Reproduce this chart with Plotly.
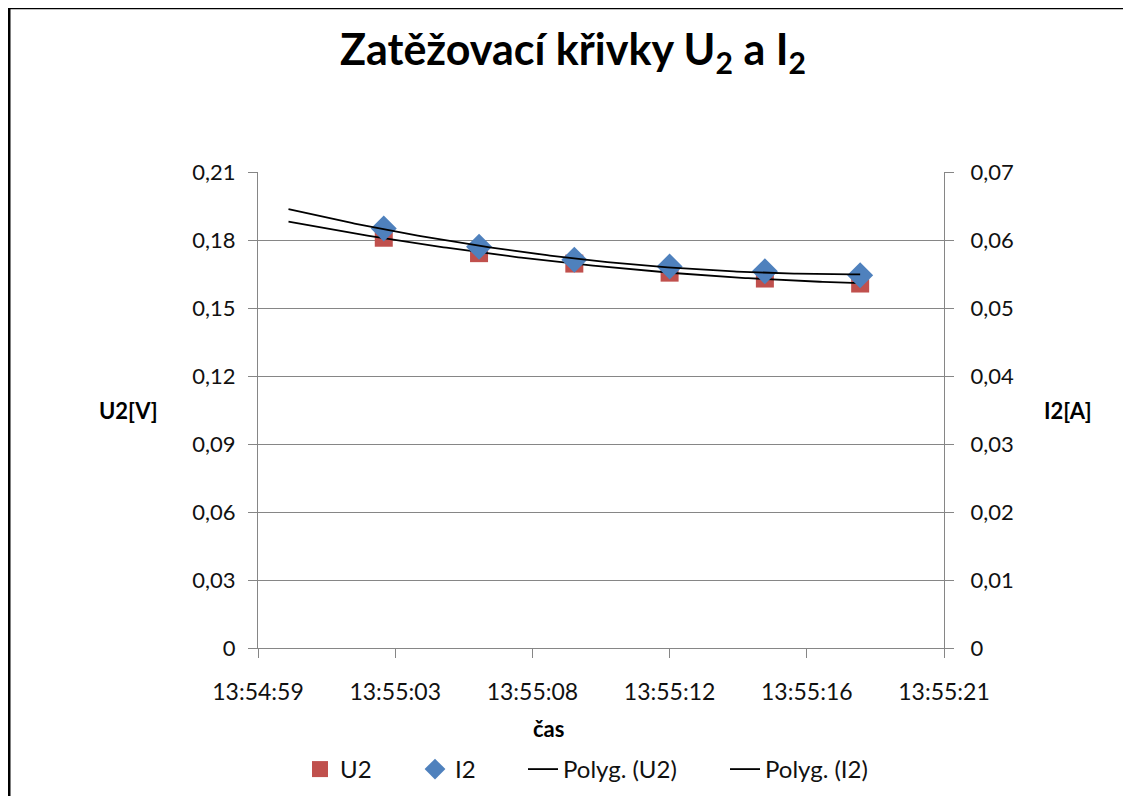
import numpy as np
import plotly.graph_objects as go

# ---- data ----
times = ["13:55:03", "13:55:06", "13:55:09", "13:55:12", "13:55:15", "13:55:18"]
u2_values = [0.1810, 0.1742, 0.1696, 0.1656, 0.1630, 0.1608]
i2_values = [0.0617, 0.0590, 0.0571, 0.0561, 0.0554, 0.0548]
trend_start = "13:55:00"   # trendline backward forecast

x_tick_labels = ["13:54:59", "13:55:03", "13:55:08", "13:55:12", "13:55:16", "13:55:21"]
u_tick_vals = [0, 0.03, 0.06, 0.09, 0.12, 0.15, 0.18, 0.21]
u_tick_labels = ["0", "0,03", "0,06", "0,09", "0,12", "0,15", "0,18", "0,21"]
i_tick_vals = [0, 0.01, 0.02, 0.03, 0.04, 0.05, 0.06, 0.07]
i_tick_labels = ["0", "0,01", "0,02", "0,03", "0,04", "0,05", "0,06", "0,07"]

# Excel-like time axis (in days): min and major unit
axis_min_days = 0.57985
major_unit_days = 0.00005


def sec(t):
    h, m, s = map(int, t.split(":"))
    return h * 3600 + m * 60 + s


x = np.array([sec(t) for t in times], dtype=float)
x_tick_vals = [(axis_min_days + k * major_unit_days) * 86400 for k in range(len(x_tick_labels))]

# polynomial (order 2) trendlines
x0 = x[0]
xt = np.linspace(sec(trend_start), x[-1], 200)
pu = np.polyfit(x - x0, u2_values, 2)
pi = np.polyfit(x - x0, i2_values, 2)
u_trend = np.polyval(pu, xt - x0)
i_trend = np.polyval(pi, xt - x0)

FONT = "Lato"
GRID = "#868686"
TXT = "#111111"

fig = go.Figure()
fig.add_trace(go.Scatter(x=x, y=u2_values, mode="markers", name="U2",
                         marker=dict(symbol="square", size=18, color="#C0504D"),
                         yaxis="y", legend="legend"))
fig.add_trace(go.Scatter(x=x, y=i2_values, mode="markers", name="I2",
                         marker=dict(symbol="diamond", size=20, color="#4F81BD"),
                         yaxis="y2", legend="legend2"))
fig.add_trace(go.Scatter(x=xt, y=u_trend, mode="lines", name="Polyg. (U2)",
                         line=dict(color="black", width=1.8), yaxis="y",
                         legend="legend3"))
fig.add_trace(go.Scatter(x=xt, y=i_trend, mode="lines", name="Polyg. (I2)",
                         line=dict(color="black", width=1.8), yaxis="y2",
                         legend="legend4"))

W, H = 1131, 796
OFF = 8  # page body margin
# target screen positions of plot area
L, R, T, B = 258, 944, 172, 650
pw, ph = R - L, B - T


def px(xp):
    return (xp - L) / pw


def py(yp):
    return (B - yp) / ph


def label(text, xp, yp):
    return dict(text=text, x=px(xp), y=py(yp), xref="paper", yref="paper",
                xanchor="center", yanchor="middle", showarrow=False,
                font=dict(size=22, color="black"))


def legend_at(text_x):
    return dict(orientation="h", x=px(text_x - 40), xanchor="left", y=py(772),
                yanchor="middle", font=dict(size=24), bgcolor="rgba(0,0,0,0)")


fig.update_layout(
    width=W, height=H,
    margin=dict(l=L - OFF, r=W - (R - OFF), t=T - OFF, b=H - (B - OFF)),
    paper_bgcolor="white", plot_bgcolor="white",
    font=dict(family=FONT, size=22, color=TXT),
    title=dict(text="Zatěžovací křivky U<sub>2</sub> a I<sub>2</sub>",
               font=dict(family=FONT, size=43, color="black", weight="bold"),
               x=(573 - OFF) / W, xanchor="center", y=1 - (50 - OFF) / H, yanchor="middle"),
    xaxis=dict(range=[x_tick_vals[0], x_tick_vals[-1]], tickvals=x_tick_vals,
               ticktext=x_tick_labels, showgrid=False, zeroline=False,
               showline=True, linecolor=GRID, linewidth=1,
               ticks="outside", ticklen=9, tickcolor=GRID,
               ticklabelstandoff=14, tickfont=dict(size=23)),
    yaxis=dict(range=[0, 0.21], tickvals=u_tick_vals, ticktext=u_tick_labels,
               showgrid=True, gridcolor=GRID, gridwidth=1, zeroline=False,
               showline=True, linecolor=GRID, linewidth=1,
               ticks="outside", ticklen=9, tickcolor=GRID,
               ticklabelstandoff=8, tickfont=dict(size=22)),
    yaxis2=dict(range=[0, 0.07], tickvals=i_tick_vals, ticktext=i_tick_labels,
                overlaying="y", side="right", showgrid=False, zeroline=False,
                showline=True, linecolor=GRID, linewidth=1,
                ticks="outside", ticklen=9, tickcolor=GRID,
                ticklabelstandoff=12, tickfont=dict(size=22)),
    legend=legend_at(340),
    legend2=legend_at(455),
    legend3=legend_at(563),
    legend4=legend_at(765),
    showlegend=True,
    annotations=[
        label("<b>U2[V]</b>", 128, 412),
        label("<b>I2[A]</b>", 1068, 412),
        label("<b>čas</b>", 548, 731),
    ],
    shapes=[
        dict(type="rect", xref="paper", yref="paper",
             x0=px(9), y0=py(7), x1=px(1250), y1=py(950),
             line=dict(color="black", width=3), fillcolor="rgba(0,0,0,0)"),
    ],
)

fig.write_html("out.html")
